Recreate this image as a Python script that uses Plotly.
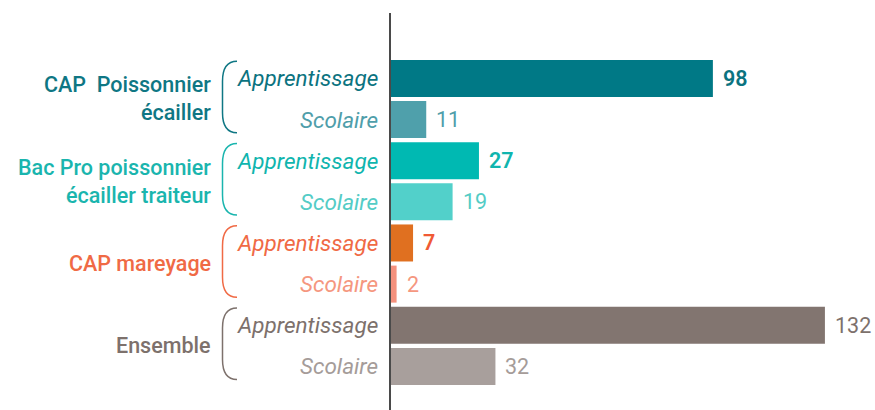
import plotly.graph_objects as go

# Training programmes and their two pathways
groups = ["CAP  Poissonnier<br>écailler", "Bac Pro poissonnier<br>écailler traiteur",
          "CAP mareyage", "Ensemble"]
pathways = ["Apprentissage", "Scolaire"]
values = [98, 11, 27, 19, 7, 2, 132, 32]

# Colours: bars, pathway labels, value labels, group labels
bar_colors = ["#007986", "#4fa0ab", "#00b9b2", "#52d0ca",
              "#e07020", "#f4917d", "#827570", "#a89f9c"]
path_colors = ["#0b7380", "#4f9eaa", "#10b5ae", "#54ccc6",
               "#f06a45", "#f5977f", "#7d716c", "#a59c99"]
value_colors = ["#0b7380", "#4f9eaa", "#10b5ae", "#54ccc6",
                "#f05a35", "#f5977f", "#7d716c", "#a59c99"]
value_weights = [600, 400, 600, 400, 600, 400, 400, 400]
group_colors = ["#0f7784", "#1ab5ae", "#f06a45", "#7d716c"]

W, H = 875, 410
ML, MT = 390, 13
PW, PH = W - ML, H - MT
X_MAX = 147.2
Y_TOP, Y_BOT = -1.59, 8.06

positions = list(range(len(values)))
labels = [pathways[i % 2] for i in positions]

fig = go.Figure()
fig.add_trace(go.Bar(
    x=values, y=positions, orientation="h",
    marker=dict(color=bar_colors, line=dict(width=0)),
    width=0.9, hoverinfo="skip",
))

FONT = "Roboto"
ann = []
# value labels at the end of each bar
for p, v in zip(positions, values):
    ann.append(dict(x=v, y=p, xref="x", yref="y", text=str(v), showarrow=False,
                    xanchor="left", yanchor="middle", xshift=8,
                    font=dict(family=FONT, size=21.5, color=value_colors[p],
                              weight=value_weights[p])))

def paper_y(pos):
    return (Y_BOT - pos) / (Y_BOT - Y_TOP)

def paper_x(px):
    return (px - ML) / PW

# pathway labels (italic)
for p, lab in zip(positions, labels):
    ann.append(dict(x=paper_x(380), y=paper_y(p), xref="paper", yref="paper",
                    text="<i>%s</i>" % lab, showarrow=False,
                    xanchor="right", yanchor="middle",
                    font=dict(family=FONT, size=22.5, color=path_colors[p])))

# group labels and brackets
shapes = []
for g, name in enumerate(groups):
    top, bot = 2 * g, 2 * g + 1
    ann.append(dict(x=paper_x(213), y=paper_y(top + 0.5), xref="paper", yref="paper",
                    text=name, showarrow=False, xanchor="right", yanchor="middle",
                    align="right",
                    font=dict(family=FONT, size=21.5, color=group_colors[g], weight=500)))
    y0 = paper_y(top - 0.42)
    y1 = paper_y(bot + 0.32)
    xl, xr = paper_x(222.5), paper_x(237)
    ry = 20 / PH
    path = (f"M {xr},{y0} Q {xl},{y0} {xl},{y0 - ry} "
            f"L {xl},{y1 + ry} Q {xl},{y1} {xr},{y1}")
    shapes.append(dict(type="path", path=path, xref="paper", yref="paper",
                       line=dict(color=group_colors[g], width=1.5)))

# vertical axis line at zero
shapes.append(dict(type="line", x0=0, x1=0, y0=0, y1=1, xref="paper", yref="paper",
                   line=dict(color="#4a4a4a", width=2)))

fig.update_layout(
    width=W, height=H,
    margin=dict(l=ML, r=0, t=MT, b=0),
    paper_bgcolor="white", plot_bgcolor="white",
    showlegend=False,
    xaxis=dict(range=[0, X_MAX], visible=False, fixedrange=True),
    yaxis=dict(range=[Y_BOT, Y_TOP], visible=False, fixedrange=True),
    annotations=ann, shapes=shapes,
    bargap=0.1,
)

fig.write_html("out.html", config={"displayModeBar": False})
